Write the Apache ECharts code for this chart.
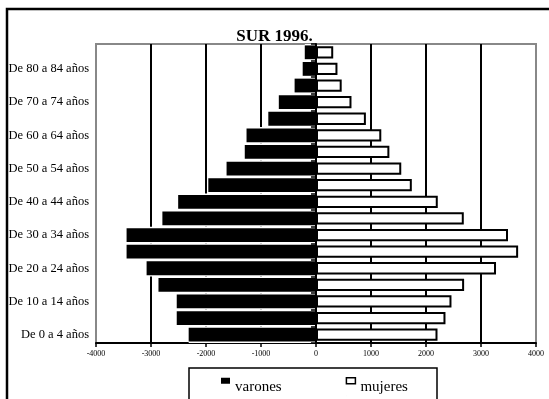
<!DOCTYPE html>
<html>
<head>
<meta charset="utf-8">
<script src="https://cdn.jsdelivr.net/npm/echarts@6/dist/echarts.min.js"></script>
<style>
html,body{margin:0;padding:0;background:#fff;}
#chart{width:549px;height:399px;}
</style>
</head>
<body>
<div id="chart"></div>
<script>
const categories = ['De 0 a 4 años','De 5 a 9 años','De 10 a 14 años','De 15 a 19 años','De 20 a 24 años','De 25 a 29 años','De 30 a 34 años','De 35 a 39 años','De 40 a 44 años','De 45 a 49 años','De 50 a 54 años','De 55 a 59 años','De 60 a 64 años','De 65 a 69 años','De 70 a 74 años','De 75 a 79 años','De 80 a 84 años','De 85 y más años'];
const varones = [-2315,-2532,-2532,-2864,-3080,-3444,-3444,-2793,-2506,-1958,-1626,-1295,-1263,-867,-676,-389,-242,-204];
const mujeres = [2209,2354,2463,2693,3273,3675,3491,2687,2214,1742,1550,1334,1187,907,645,467,390,313];
const titleText = 'SUR 1996.';
const xMin = -4000, xMax = 4000, xStep = 1000;

const serif = 'Liberation Serif';
const raisedIcon = 'path://M0,0H9V6H0Z M0,18L0.01,18';
const chart = echarts.init(document.getElementById('chart'), null, {renderer: 'canvas'});
chart.setOption({
  animation: false,
  backgroundColor: '#fff',
  title: {
    text: titleText, left: 'center', top: 28, padding: 0,
    textStyle: {fontFamily: serif, fontSize: 17, fontWeight: 'bold', color: '#000'}
  },
  graphic: [
    {type: 'rect', z: 100, shape: {x: 7, y: 9, width: 620, height: 500}, style: {fill: 'none', stroke: '#000', lineWidth: 2.5}},
    {type: 'rect', z: 1, shape: {x: 189, y: 368, width: 248, height: 45}, style: {fill: '#fff', stroke: '#000', lineWidth: 1.5}}
  ],
  legend: {
    left: 221, top: 377, padding: 0, itemGap: 64, itemWidth: 9, itemHeight: 18, z: 5,
    textStyle: {fontFamily: serif, fontSize: 15, color: '#000'},
    data: [
      {name: 'varones', icon: raisedIcon, itemStyle: {color: '#000', borderWidth: 0}},
      {name: 'mujeres', icon: raisedIcon, itemStyle: {color: '#fff', borderColor: '#000', borderWidth: 1.5}}
    ]
  },
  grid: {left: 96, right: 13, top: 44, height: 299, show: true, borderColor: '#888', borderWidth: 2, backgroundColor: 'transparent'},
  xAxis: {
    type: 'value', min: xMin, max: xMax, interval: xStep,
    axisLine: {show: true, onZero: false, lineStyle: {color: '#000', width: 2}},
    axisTick: {show: true, length: 4, lineStyle: {color: '#000', width: 1.5}},
    axisLabel: {fontFamily: serif, fontSize: 8, color: '#000', margin: 7, formatter: v => String(v)},
    splitLine: {show: true, lineStyle: {color: ['#888','#000','#000','#000','#000','#000','#000','#000','#888'], width: 2}}
  },
  yAxis: [
    {
      type: 'category', data: categories, position: 'left',
      axisLine: {show: false, onZero: false}, axisTick: {show: false},
      axisLabel: {interval: 1, fontFamily: serif, fontSize: 12.5, color: '#000', margin: 7}
    },
    {
      type: 'category', data: categories, position: 'left', z: 10,
      axisLine: {show: true, onZero: true, lineStyle: {color: '#000', width: 2}},
      axisTick: {show: true, length: 5, lineStyle: {color: '#000', width: 1.5}},
      axisLabel: {show: false}
    },
    {
      type: 'category', data: categories, position: 'left', show: false
    }
  ],
  series: [
    {
      name: 'fondo', type: 'bar', yAxisIndex: 2, data: varones, silent: true,
      barCategoryGap: '0%', itemStyle: {color: '#fff'}
    },
    {
      name: 'varones', type: 'bar', yAxisIndex: 0, data: varones,
      barCategoryGap: '17%',
      itemStyle: {color: '#000'}
    },
    {
      name: 'mujeres', type: 'bar', yAxisIndex: 1, data: mujeres,
      barCategoryGap: '26%',
      itemStyle: {color: '#fff', borderColor: '#000', borderWidth: 2}
    }
  ]
});
</script>
</body>
</html>
